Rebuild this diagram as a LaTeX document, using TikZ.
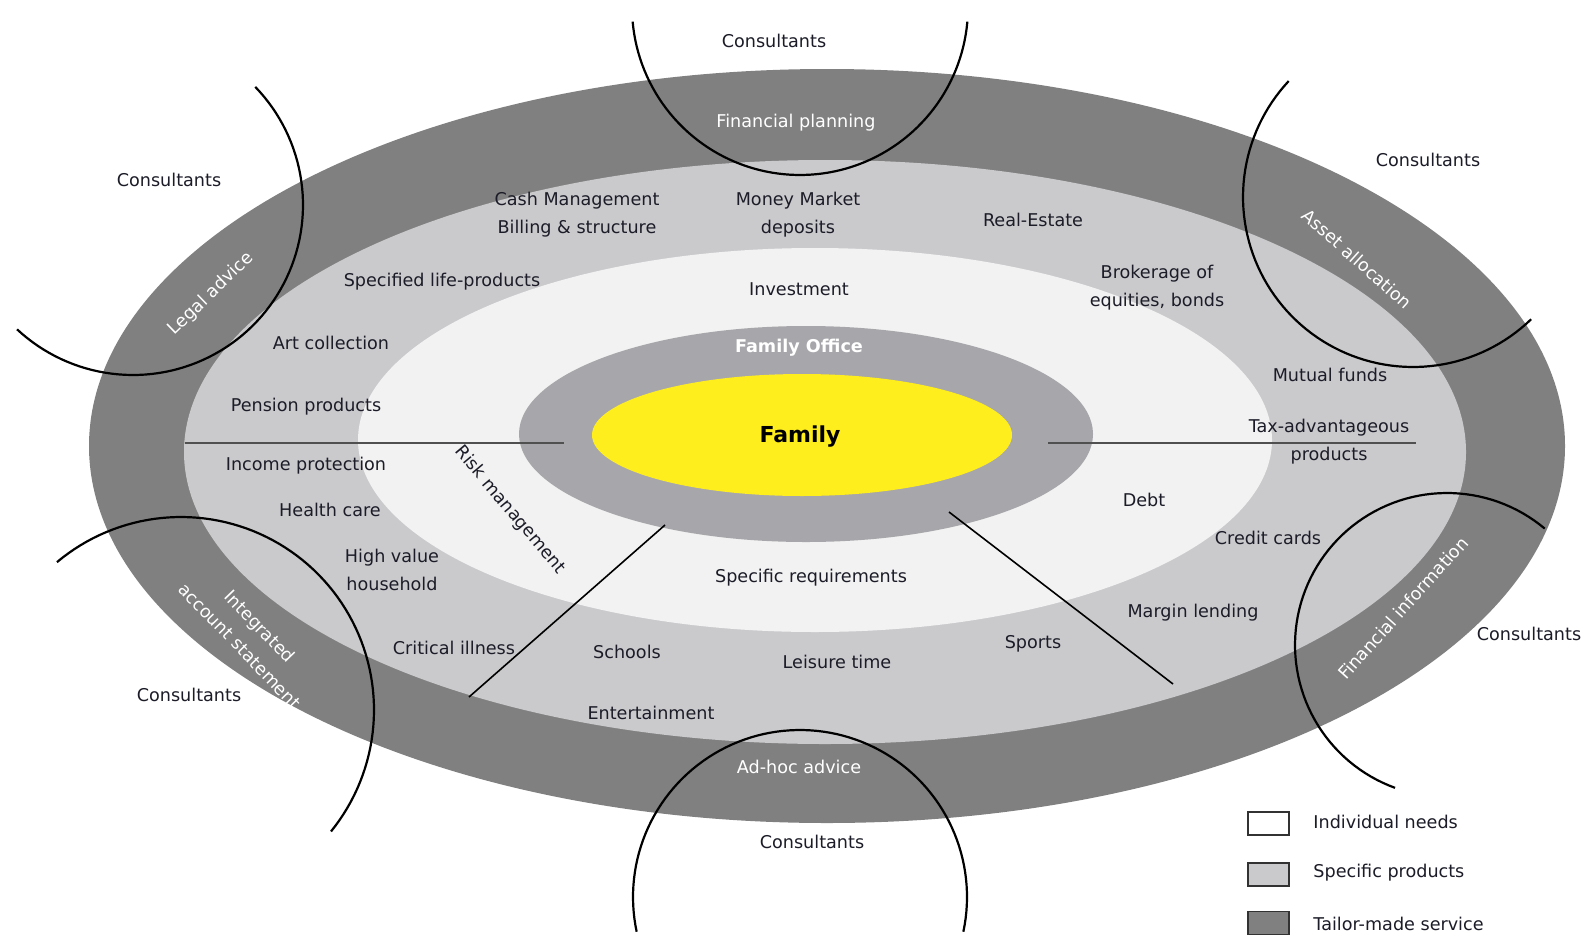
\documentclass[tikz,border=0pt]{standalone}
\usepackage{fontspec}
\setmainfont{DejaVu Sans}
\definecolor{darkring}{RGB}{128,128,128}
\definecolor{lightring}{RGB}{202,202,205}
\definecolor{innerfill}{RGB}{242,242,242}
\definecolor{fofill}{RGB}{167,166,170}
\definecolor{famfill}{RGB}{255,238,30}
\definecolor{txt}{RGB}{28,28,40}
\definecolor{divgray}{RGB}{80,80,80}
\definecolor{legborder}{RGB}{50,50,50}
\tikzset{
  lbl/.style={font=\fontsize{8.8}{14}\selectfont, text=txt, align=center, inner sep=0pt},
  wlbl/.style={lbl, text=white},
  arcline/.style={line width=1.1pt, draw=black},
  divider/.style={line width=1.4pt, draw=divgray},
  spoke/.style={line width=0.8pt, draw=black},
  legbox/.style={draw=legborder, line width=0.9pt, minimum width=20.5pt, minimum height=11.5pt, inner sep=0pt},
}
\begin{document}
\begin{tikzpicture}[x=0.5pt, y=-0.5pt]
\useasboundingbox (0,0) rectangle (1588,937);
\fill[white] (0,0) rectangle (1588,937);
% rings
\fill[darkring] (827,446) ellipse [x radius=738, y radius=377];
\fill[lightring] (825,452) ellipse [x radius=641, y radius=292];
\fill[innerfill] (815,440) ellipse [x radius=457, y radius=192];
\fill[fofill] (806,434) ellipse [x radius=287, y radius=108];
\fill[famfill] (802,435) ellipse [x radius=210, y radius=61];
% dividers
\coordinate (hl1) at (185,443);
\coordinate (hl2) at (564,443);
\coordinate (hr1) at (1048,443);
\coordinate (hr2) at (1416,443);
\coordinate (dl1) at (665,525);
\coordinate (dl2) at (469,697);
\coordinate (dr1) at (949,512);
\coordinate (dr2) at (1173,684);
\draw[divider] (hl1) -- (hl2);
\draw[divider] (hr1) -- (hr2);
\draw[spoke] (dl1) -- (dl2);
\draw[spoke] (dr1) -- (dr2);
% consultant arcs
\draw[arcline] plot[domain=185:355, samples=80] ({800+168*cos(\x)}, {7-168*sin(\x)});
\draw[arcline] plot[domain=-12:192, samples=90] ({800+167*cos(\x)}, {897-167*sin(\x)});
\draw[arcline] plot[domain=-133:44, samples=80] ({133+170*cos(\x)}, {205-170*sin(\x)});
\draw[arcline] plot[domain=137:314, samples=80] ({1413+170*cos(\x)}, {197-170*sin(\x)});
\draw[arcline] plot[domain=-39:130, samples=80] ({181+193*cos(\x)}, {710-193*sin(\x)});
\draw[arcline] plot[domain=50:250, samples=80] ({1447+152*cos(\x)}, {645-152*sin(\x)});
% labels
\node[lbl] (cons1) at (774,41) {Consultants};
\node[wlbl] (finplan) at (796,123) {Financial planning};
\node[lbl] (cons2) at (169,180) {Consultants};
\node[wlbl, rotate=44] (legal) at (211,294) {Legal advice};
\node[lbl] (cash) at (577,215) {Cash Management\\Billing \& structure};
\node[lbl] (money) at (798,215) {Money Market\\deposits};
\node[lbl] (realestate) at (1033,220) {Real-Estate};
\node[lbl] (cons3) at (1428,160) {Consultants};
\node[wlbl, rotate=-42] (asset) at (1357,259) {Asset allocation};
\node[lbl] (speclife) at (442,282) {Specified life-products};
\node[lbl] (invest) at (799,289) {Investment};
\node[lbl] (broker) at (1157,288) {Brokerage of\\equities, bonds};
\node[lbl] (art) at (331,343) {Art collection};
\node[wlbl, font=\bfseries\fontsize{8.8}{14}\selectfont] (famoff) at (799,348) {Family Office};
\node[lbl] (mutual) at (1330,375) {Mutual funds};
\node[lbl] (pension) at (306,407) {Pension products};
\node[lbl, font=\bfseries\fontsize{11}{13}\selectfont, text=black] (family) at (800,437) {Family};
\node[lbl] (tax) at (1329,442) {Tax-advantageous\\products};
\node[lbl] (income) at (306,466) {Income protection};
\node[lbl, rotate=-50] (risk) at (510,510) {Risk management};
\node[lbl] (health) at (330,510) {Health care};
\node[lbl] (debt) at (1144,500) {Debt};
\node[lbl] (credit) at (1268,538) {Credit cards};
\node[lbl] (highval) at (392,570) {High value\\household};
\node[lbl] (specreq) at (811,578) {Specific requirements};
\node[lbl] (margin) at (1193,613) {Margin lending};
\node[wlbl, rotate=-46] (integ) at (250,636) {Integrated\\account statement};
\node[lbl] (critical) at (454,648) {Critical illness};
\node[lbl] (schools) at (627,652) {Schools};
\node[lbl] (leisure) at (837,662) {Leisure time};
\node[lbl] (sports) at (1033,644) {Sports};
\node[wlbl, rotate=48] (fininfo) at (1403,608) {Financial information};
\node[lbl] (cons4) at (1529,634) {Consultants};
\node[lbl] (cons5) at (189,695) {Consultants};
\node[lbl] (entertain) at (651,713) {Entertainment};
\node[wlbl] (adhoc) at (799,767) {Ad-hoc advice};
\node[lbl] (cons6) at (812,842) {Consultants};
% legend
\node[legbox, fill=white] (box1) at (1268.5,823.5) {};
\node[legbox, fill=lightring] (box2) at (1268.5,874.5) {};
\node[legbox, fill=darkring] (box3) at (1268.5,923) {};
\node[lbl, anchor=west] (leg1) at (1313,822) {Individual needs};
\node[lbl, anchor=west] (leg2) at (1313,873) {Specific products};
\node[lbl, anchor=west] (leg3) at (1313,924) {Tailor-made service};
\end{tikzpicture}
\end{document}
